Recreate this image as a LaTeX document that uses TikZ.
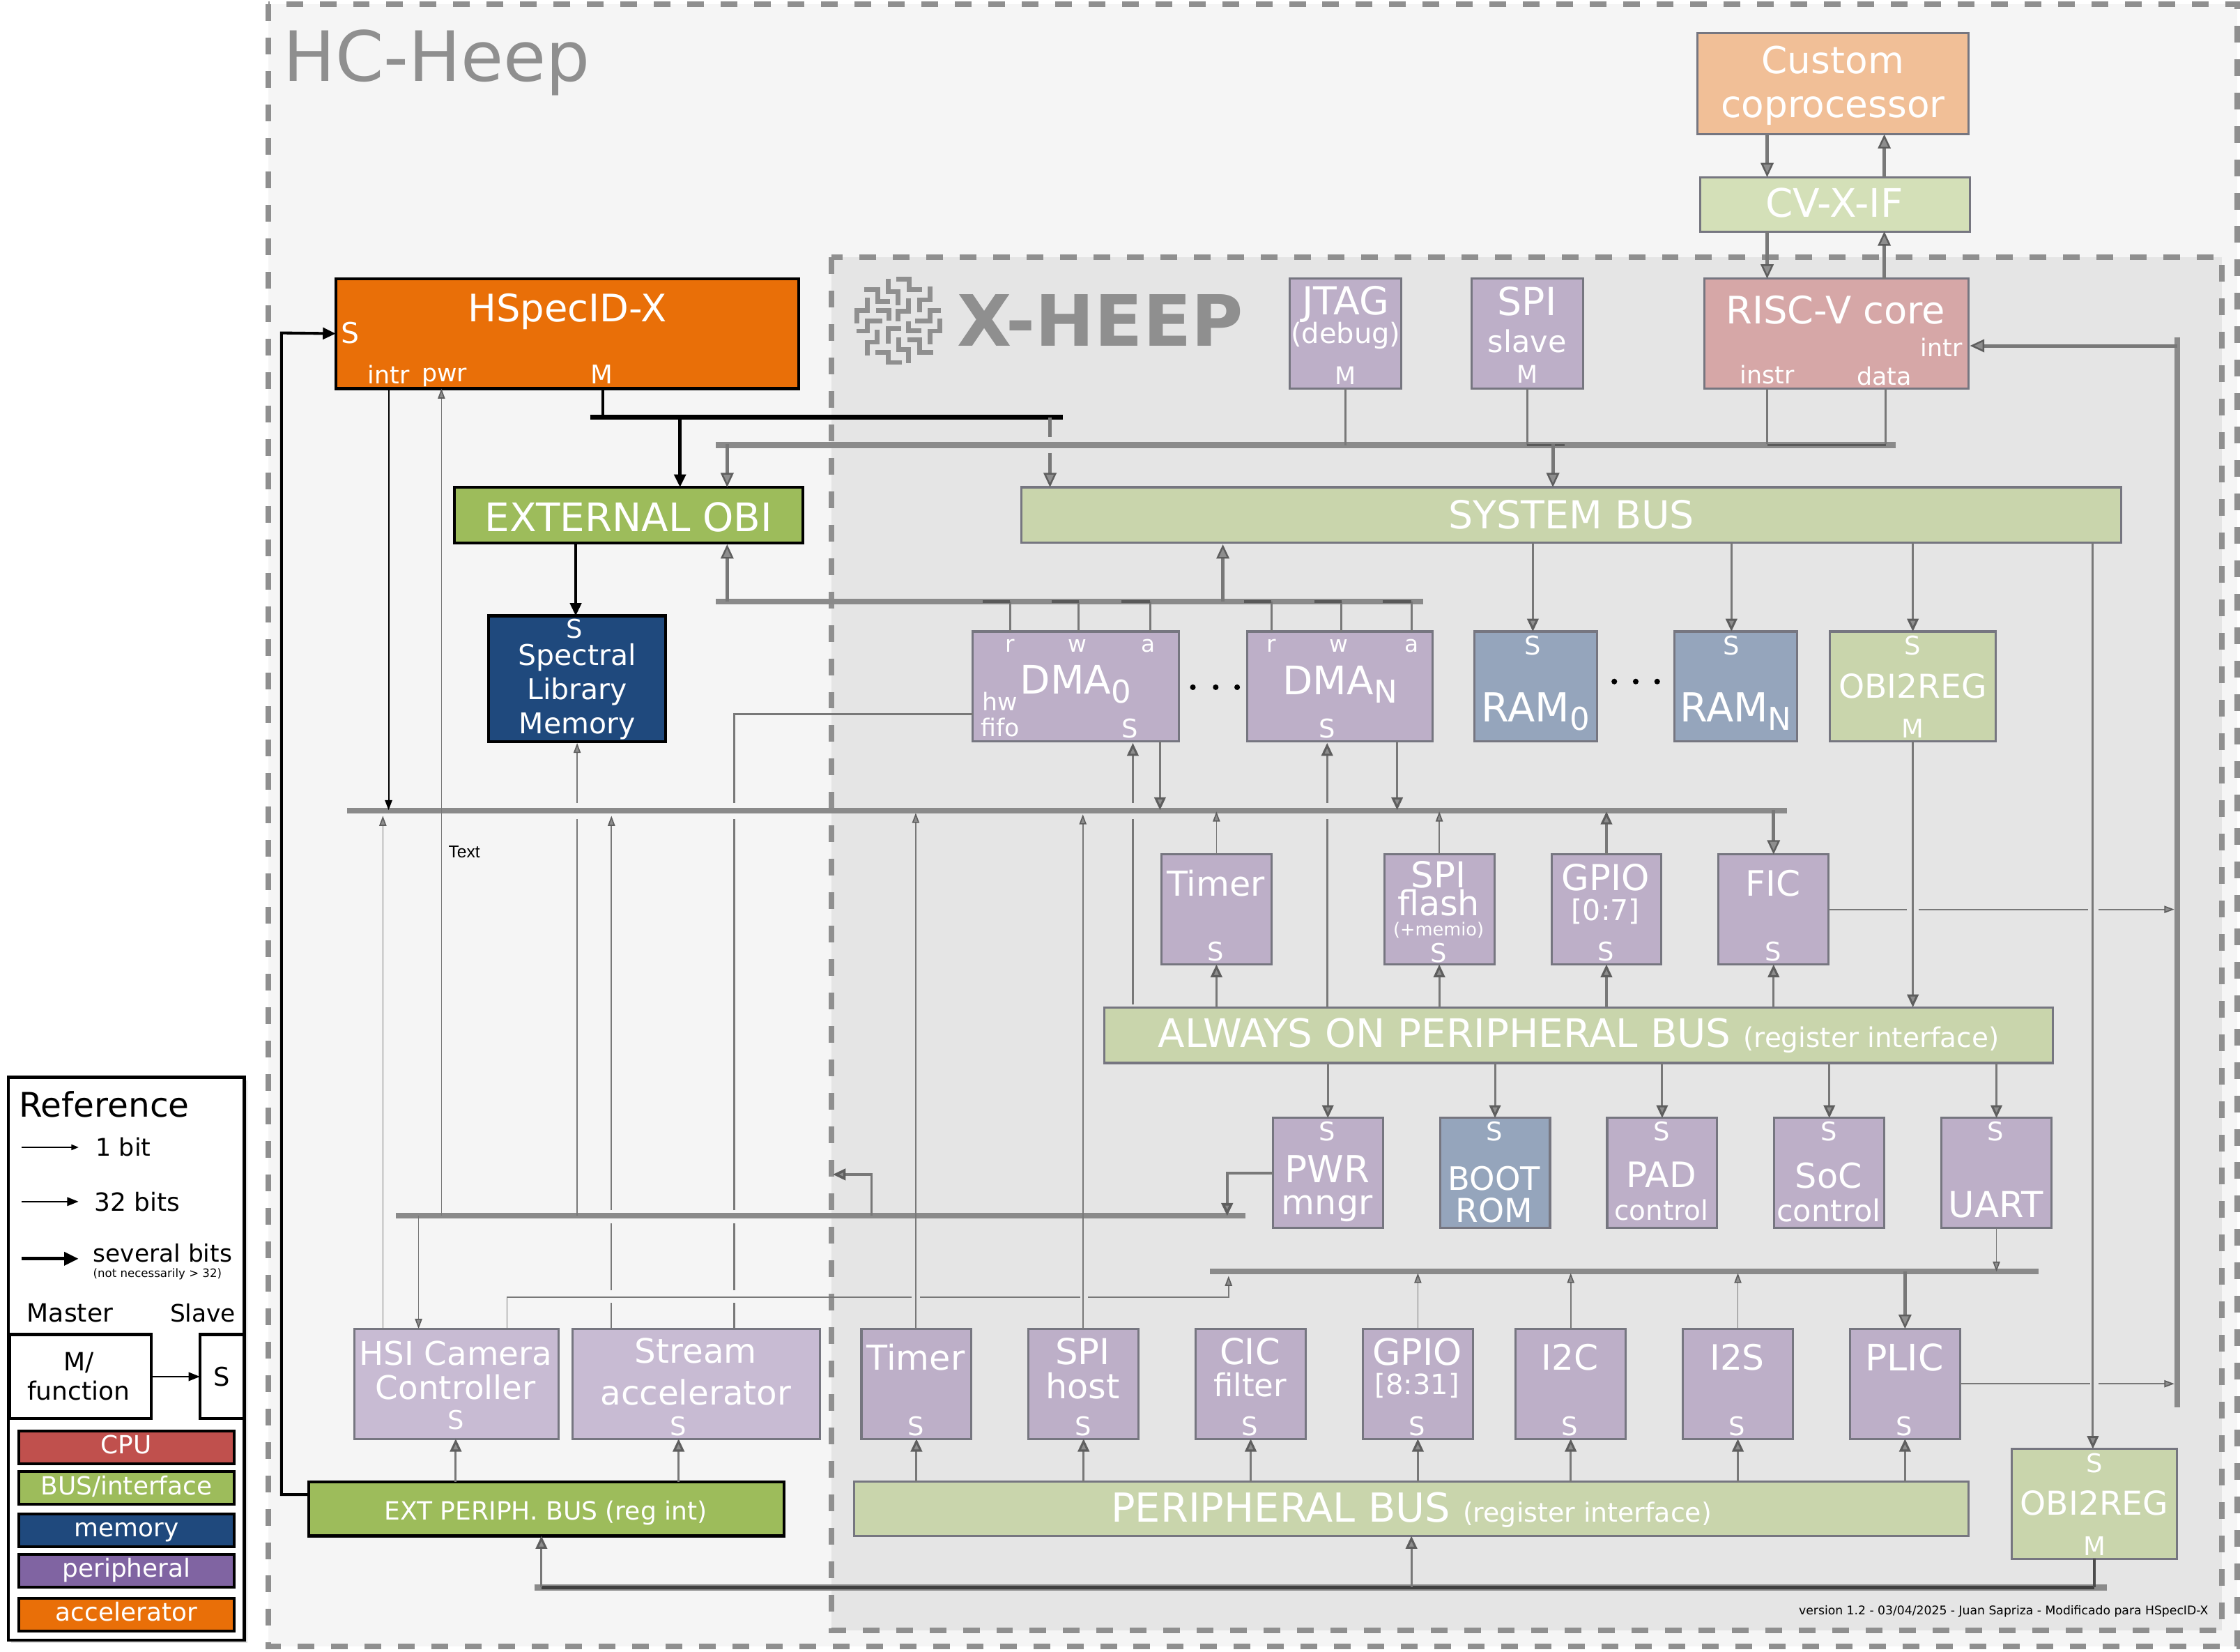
\documentclass[tikz,border=0pt]{standalone}
\usepackage{fontspec}
\setmainfont{DejaVu Sans}
\newfontfamily\smallfont{Liberation Sans}
\usetikzlibrary{arrows.meta,shadows}
\definecolor{outerbg}{HTML}{F5F5F5}
\definecolor{innerbg}{HTML}{E5E5E5}
\definecolor{dashcol}{HTML}{8F8F8F}
\definecolor{wirecol}{HTML}{787878}
\definecolor{tipcol}{HTML}{8E8E8E}
\definecolor{tipedge}{HTML}{5E5E5E}
\definecolor{buscol}{HTML}{8A8A8A}
\definecolor{edgecol}{HTML}{767680}
\definecolor{periphcol}{HTML}{BDAFC8}
\definecolor{extperiphcol}{HTML}{C8BBD3}
\definecolor{memcol}{HTML}{95A5BC}
\definecolor{buslight}{HTML}{C9D5AC}
\definecolor{cvxcol}{HTML}{D4E0B8}
\definecolor{corecol}{HTML}{D6A7A7}
\definecolor{copcol}{HTML}{F1BF97}
\definecolor{accelcol}{HTML}{E96F08}
\definecolor{extbuscol}{HTML}{9DBC5B}
\definecolor{navycol}{HTML}{1F497D}
\definecolor{cpucol}{HTML}{C0504D}
\definecolor{purplecol}{HTML}{8064A2}
\tikzset{
  block/.style={draw=edgecol,line width=1.5pt,inner sep=0pt,outer sep=0pt},
  blackblock/.style={draw=black,line width=2pt,inner sep=0pt,outer sep=0pt},
  size/.style n args={2}{minimum width=#1pt,minimum height=#2pt},
  sq/.style={block,fill=periphcol,size={77}{77}},
  txt/.style={text=white,inner sep=0pt,align=center,font=\fontsize{#1}{#1}\selectfont},
  blacktxt/.style={text=black,inner sep=0pt,align=center,font=\fontsize{#1}{#1}\selectfont},
  port/.style={txt=18},
  keybar/.style={blackblock,size={151}{23},text=white,font=\fontsize{17.5}{17.5}\selectfont,text height=13pt,text depth=4pt},
  busline/.style={draw=buscol,line width=4pt},
  darkline/.style={draw=black!70,line width=2pt},
  thinw/.style={draw=wirecol,line width=0.8pt,>={Triangle[length=7pt,width=5pt,fill=tipcol,color=tipedge]}},
  medw/.style={draw=wirecol,line width=1.5pt,>={Triangle[length=9pt,width=8pt,fill=tipcol,color=tipedge]}},
  widew/.style={draw=wirecol,line width=2.4pt,>={Triangle[length=10pt,width=9pt,line width=1.2pt,fill=tipcol,color=tipedge]}},
  blackw/.style={draw=black,line width=#1,>={Triangle[length=9pt,width=8pt,fill=black]}},
  blackw/.default=1.8pt,
}
\begin{document}
\begin{tikzpicture}[x=1pt,y=-1pt]
\useasboundingbox (0,0) rectangle (1568,1156.2);

\path[fill=outerbg,draw=dashcol,line width=3.9pt,dash pattern=on 11.7pt off 11.7pt] (188,3) rectangle (1566,1152.5);
\path[fill=innerbg,draw=dashcol,line width=3.9pt,dash pattern=on 11.7pt off 11.7pt] (582,180) rectangle (1555.5,1141);

\node[txt=48.5,text=dashcol,anchor=west] (hcheep) at (198,44) {HC-Heep};
\node[txt=49,text=dashcol,anchor=west,font=\fontsize{49.5}{50}\bfseries] (xheep) at (670,224) {X-HEEP};
\begin{scope}[shift={(592.68,187.8)},x=0.1626pt,y=-0.1626pt,draw=dashcol,line width=3.3pt]
\foreach \maze in {
  {(180,45)--(180,100)--(222,100)--(222,158)},
  {(212,47)--(268,47)--(268,92)--(323,92)},
  {(75,92)--(133,92)--(133,143)--(187,143)},
  {(358,78)--(358,135)--(315,135)--(315,190)},
  {(90,127)--(90,182)--(45,182)--(45,238)},
  {(126,182)--(182,182)--(182,225)},
  {(267,128)--(267,185)--(222,185)--(222,228)},
  {(405,182)--(358,182)--(358,226)--(293,226)},
  {(153,227)--(90,227)--(90,270)--(42,270)},
  {(265,228)--(265,268)--(322,268)},
  {(402,215)--(402,270)--(358,270)--(358,327)},
  {(234,260)--(179,260)--(179,325)},
  {(132,264)--(132,318)--(88,318)--(88,375)},
  {(262,308)--(315,308)--(315,362)--(372,362)},
  {(223,296)--(223,350)--(267,350)--(267,408)},
  {(123,361)--(179,361)--(179,405)--(236,405)}}
  \draw \maze;
\end{scope}

\node[block,fill=copcol,size={190}{71}] (custom) at (1283,58.5) {};
\node[block,fill=cvxcol,size={189}{38}] (cvxif) at (1284.5,143) {};
\node[block,fill=corecol,size={185}{77}] (riscv) at (1285.5,233.5) {};
\node[block,fill=periphcol,size={78}{77}] (spislave) at (1069,233.5) {};
\node[block,fill=periphcol,size={78}{77}] (jtag) at (942,233.5) {};
\node[blackblock,fill=accelcol,size={324}{77}] (hspec) at (397,233.5) {};
\node[blackblock,fill=extbuscol,size={244}{39}] (extobi) at (440,360.5) {};
\node[blackblock,fill=navycol,size={124}{88}] (speclib) at (404,475) {};
\node[block,fill=buslight,size={770}{39}] (sysbus) at (1100,360.5) {};
\node[block,fill=periphcol,size={144}{77}] (dmazero) at (753,480.5) {};
\node[block,fill=periphcol,size={130}{77}] (dman) at (938,480.5) {};
\node[block,fill=memcol,size={86}{77}] (ramzero) at (1075,480.5) {};
\node[block,fill=memcol,size={86}{77}] (ramn) at (1215,480.5) {};
\node[block,fill=buslight,size={116}{77}] (obiup) at (1339,480.5) {};
\node[sq] (timera) at (851.5,636.5) {};
\node[sq] (spiflash) at (1007.5,636.5) {};
\node[sq] (gpioa) at (1124.5,636.5) {};
\node[sq] (fic) at (1241.5,636.5) {};
\node[block,fill=buslight,size={664}{39}] (aobus) at (1105,724.5) {};
\node[sq] (pwr) at (929.5,821) {};
\node[sq,fill=memcol] (boot) at (1046.5,821) {};
\node[sq] (pad) at (1163.5,821) {};
\node[sq] (soc) at (1280.5,821) {};
\node[sq] (uart) at (1397.5,821) {};
\node[block,fill=extperiphcol,size={143}{77}] (hsi) at (319.5,968.5) {};
\node[block,fill=extperiphcol,size={173}{77}] (stream) at (487.5,968.5) {};
\node[sq] (timerb) at (641.5,968.5) {};
\node[sq] (spihost) at (758.5,968.5) {};
\node[sq] (cic) at (875.5,968.5) {};
\node[sq] (gpiob) at (992.5,968.5) {};
\node[sq] (itwoc) at (1099.5,968.5) {};
\node[sq] (itwos) at (1216.5,968.5) {};
\node[sq] (plic) at (1333.5,968.5) {};
\node[block,fill=buslight,size={780}{38}] (perbus) at (988,1056) {};
\node[blackblock,fill=extbuscol,size={333}{38}] (extbus) at (382.5,1056) {};
\node[block,fill=buslight,size={116}{77}] (obidown) at (1466,1052.5) {};

\node[txt=26] (customtxt) at (1283,60) {Custom\\[5pt]coprocessor};
\node[txt=27.5] (cvxtxt) at (1284,142) {CV-X-IF};
\node[txt=26.5] (risctxt) at (1285,217) {RISC-V core};
\node[txt=17] (riscintr) at (1359,243) {intr};
\node[txt=17] (riscinstr) at (1237,262) {instr};
\node[txt=17] (riscdata) at (1319,263) {data};
\node[txt=27] (spistxt) at (1069,211) {SPI};
\node[txt=21] (slavetxt) at (1069,239) {slave};
\node[txt=17] (spism) at (1069,262) {M};
\node[txt=27] (jtagtxt) at (942,213) {JTAG};
\node[txt=19.5] (debugtxt) at (942,235) {(debug)};
\node[txt=17] (jtagm) at (942,263) {M};
\node[txt=26.5] (hspectxt) at (397,218) {HSpecID-X};
\node[txt=20] (hspecs) at (245,233) {S};
\node[txt=17] (hspecintr) at (272,262) {intr};
\node[txt=17] (hspecpwr) at (311,264) {pwr};
\node[txt=18] (hspecm) at (421,262) {M};
\node[txt=27.5] (extobitxt) at (440,362) {EXTERNAL OBI};
\node[port] (specs) at (402,440) {S};
\node[txt=20] (spectxt) at (404,484) {Spectral\\[4pt]Library\\[4pt]Memory};
\node[txt=27] (systxt) at (1100,360) {SYSTEM BUS};

\node[txt=16] (dmazr) at (707,452) {r};
\node[txt=16] (dmazw) at (754,452) {w};
\node[txt=16] (dmaza) at (804,452) {a};
\node[txt=27.5] (dmaztxt) at (753,479) {DMA\raisebox{-6pt}{\fontsize{22}{22}\selectfont 0}};
\node[txt=17] (dmazhw) at (700,491) {hw};
\node[txt=17] (dmazfifo) at (700,509) {fifo};
\node[port] (dmazs) at (791,510) {S};
\node[txt=16] (dmanr) at (890,452) {r};
\node[txt=16] (dmanw) at (937,452) {w};
\node[txt=16] (dmana) at (988,452) {a};
\node[txt=27.5] (dmantxt) at (938,479) {DMA\raisebox{-6pt}{\fontsize{22}{22}\selectfont N}};
\node[port] (dmans) at (929,510) {S};
\node[port] (ramzs) at (1073,452) {S};
\node[txt=28] (ramztxt) at (1075,498) {RAM\raisebox{-6pt}{\fontsize{22}{22}\selectfont 0}};
\node[port] (ramns) at (1212,452) {S};
\node[txt=28] (ramntxt) at (1215,498) {RAM\raisebox{-6pt}{\fontsize{22}{22}\selectfont N}};
\node[port] (obius) at (1339,452) {S};
\node[txt=23] (obiutxt) at (1339,480) {OBI2REG};
\node[port] (obium) at (1339,510) {M};

\node[txt=24] (timeratxt) at (851,618) {Timer};
\node[port] (timeras) at (851,666) {S};
\node[txt=25] (spiftxt) at (1007,612) {SPI};
\node[txt=24] (flashtxt) at (1007,632) {flash};
\node[txt=12.5] (memiotxt) at (1007,651) {(+memio)};
\node[port] (spifs) at (1007,667) {S};
\node[txt=25] (gpioatxt) at (1124,614) {GPIO};
\node[txt=20] (gpioarng) at (1124,638) {[0:7]};
\node[port] (gpioas) at (1124,666) {S};
\node[txt=24.5] (fictxt) at (1241,618) {FIC};
\node[port] (fics) at (1241,666) {S};
\node[txt=27.5] (aotxt) at (1105,725) {ALWAYS ON PERIPHERAL BUS {\fontsize{19}{19}\selectfont (register interface)}};

\node[port] (pwrs) at (929,792) {S};
\node[txt=26] (pwrtxt) at (929,818) {PWR};
\node[txt=24] (mngrtxt) at (929,846) {mngr};
\node[port] (boots) at (1046,792) {S};
\node[txt=22.6] (boottxt) at (1046,825) {BOOT};
\node[txt=23] (romtxt) at (1046,847) {ROM};
\node[port] (pads) at (1163,792) {S};
\node[txt=24.5] (padtxt) at (1163,822) {PAD};
\node[txt=19] (padctl) at (1163,847) {control};
\node[port] (socs) at (1280,792) {S};
\node[txt=24] (soctxt) at (1280,823) {SoC};
\node[txt=21] (socctl) at (1280,847) {control};
\node[port] (uarts) at (1397,792) {S};
\node[txt=25] (uarttxt) at (1397,843) {UART};

\node[txt=22.8] (hsitxt) at (319,959) {HSI Camera\\[1pt]Controller};
\node[port] (hsis) at (319,994) {S};
\node[txt=23.6] (streamtxt) at (487,960) {Stream\\[6pt]accelerator};
\node[port] (streams) at (475,998) {S};
\node[txt=24] (timerbtxt) at (641,950) {Timer};
\node[port] (timerbs) at (641,998) {S};
\node[txt=25] (spihtxt) at (758,946) {SPI};
\node[txt=24] (hosttxt) at (758,970) {host};
\node[port] (spihs) at (758,998) {S};
\node[txt=25] (cictxt) at (875,946) {CIC};
\node[txt=22] (filtertxt) at (875,969) {filter};
\node[port] (cics) at (875,998) {S};
\node[txt=25.5] (gpiobtxt) at (992,946) {GPIO};
\node[txt=19.5] (gpiobrng) at (992,970) {[8:31]};
\node[port] (gpiobs) at (992,998) {S};
\node[txt=24.5] (itwoctxt) at (1099,950) {I2C};
\node[port] (itwocs) at (1099,998) {S};
\node[txt=24.5] (itwostxt) at (1216,950) {I2S};
\node[port] (itwoss) at (1216,998) {S};
\node[txt=25.5] (plictxt) at (1333,950) {PLIC};
\node[port] (plics) at (1333,998) {S};
\node[txt=28] (pertxt) at (988,1057) {PERIPHERAL BUS {\fontsize{18.5}{18.5}\selectfont (register interface)}};
\node[txt=17.6] (extbustxt) at (382,1059) {EXT PERIPH. BUS (reg int)};
\node[port] (obids) at (1466,1024) {S};
\node[txt=23] (obidtxt) at (1466,1052) {OBI2REG};
\node[port] (obidm) at (1466,1082) {M};

\node[blacktxt=8.4] (versiontxt) at (1402.5,1128) {version 1.2 - 03/04/2025 - Juan Sapriza - Modificado para HSpecID-X};
\node[blacktxt=12,font=\smallfont\fontsize{12}{12}\selectfont] (texttag) at (325,596) {Text};

\foreach \i/\xd in {a/835,b/851,c/866}
  \node[circle,fill=black,inner sep=1.4pt] (dmadot\i) at (\xd,481) {};
\foreach \i/\xd in {a/1130,b/1145,c/1160}
  \node[circle,fill=black,inner sep=1.4pt] (ramdot\i) at (\xd,477) {};

\coordinate (sysbarl) at (501,311.5);
\coordinate (sysbarr) at (1327,311.5);
\coordinate (hspecbarl) at (413,292);
\coordinate (hspecbarr) at (744,292);
\coordinate (dmabarl) at (501,421);
\coordinate (dmabarr) at (996,421);
\coordinate (mainbarl) at (243,567.5);
\coordinate (mainbarr) at (1251,567.5);
\coordinate (midbarl) at (277,851);
\coordinate (midbarr) at (872,851);
\coordinate (lowbarl) at (847,890);
\coordinate (lowbarr) at (1427,890);
\coordinate (botbarl) at (374,1111);
\coordinate (botbarr) at (1475,1111);
\coordinate (irqbart) at (1524,236);
\coordinate (irqbarb) at (1524,985);

\path[busline] (sysbarl) -- (sysbarr);
\path[draw=black,line width=3.5pt] (hspecbarl) -- (hspecbarr);
\path[busline] (dmabarl) -- (dmabarr);
\path[busline] (mainbarl) -- (mainbarr);
\path[busline] (midbarl) -- (midbarr);
\path[busline] (lowbarl) -- (lowbarr);
\path[busline,line width=4.5pt] (botbarl) -- (botbarr);
\path[draw=black!75,line width=2.5pt] (379,1111) -- (1466,1111);
\path[busline] (irqbart) -- (irqbarb);

\path[widew,->] (1237,94) -- (1237,124);
\path[widew,->] (1319,124) -- (1319,94);
\path[widew,->] (1237,162) -- (1237,195);
\path[widew,->] (1319,195) -- (1319,162);
\path[widew,->] (1524,242) -- (1379,242);

\path[medw] (jtag.south) -- (jtag.south |- sysbarl);
\path[medw] (spislave.south) -- (spislave.south |- sysbarl);
\path[draw=black!65,line width=1.8pt] (spislave.south |- sysbarl) -- (1095,311.5);
\path[medw] (1237,272) -- (1237,311);
\path[medw] (1320,272) -- (1320,311);
\path[draw=black!65,line width=1.8pt] (1237,311.5) -- (1320,311.5);
\path[widew,->] (1087,311) -- (1087,341);
\path[widew,->] (509,311) -- (509,341);
\path[widew] (735,292) -- (735,306);
\path[widew,->] (735,317) -- (735,341);
\path[blackw] (422,272) -- (422,292);
\path[blackw=2.4pt,->] (476,292) -- (476,341);
\path[blackw,->] (403,380) -- (403,431);
\path[widew,->] (856,421) -- (856,381);
\path[widew,->] (509,421) -- (509,381);

\foreach \xs/\xe in {688/707,736/755,785/805,871/890,920/939,968/988}{
  \path[medw] (\xe,442) -- (\xe,421);
  \path[draw=black!65,line width=1.8pt] (\xe,421) -- (\xs,421);
}

\path[medw,->] (1073,380) -- (1073,442);
\path[medw,->] (1212,380) -- (1212,442);
\path[medw,->] (1339,380) -- (1339,442);
\path[medw,->] (1465,380) -- (1465,1014);
\path[medw,->] (1339,519) -- (1339,705);

\path[draw=black,line width=1pt,>={Triangle[length=7pt,width=5pt]},->] (272,272) -- (272,567);
\path[thinw,->] (309,851) -- (309,272);
\path[thinw,->] (268,930) -- (268,571);
\path[thinw] (404,851) -- (404,573);
\path[thinw,->] (404,562) -- (404,520);
\path[thinw,->] (293,851) -- (293,930);
\path[thinw] (428,930) -- (428,912);
\path[thinw] (428,903) -- (428,856);
\path[thinw,->] (428,847) -- (428,571);
\path[medw] (514,930) -- (514,912);
\path[medw] (514,903) -- (514,856);
\path[medw] (514,847) -- (514,573);
\path[medw] (514,562) -- (514,500) -- (681,500);
\path[thinw] (355,930) -- (355,908) -- (638,908);
\path[thinw] (644,908) -- (756,908);
\path[thinw,->] (761.5,908) -- (860,908) -- (860,893);
\path[thinw,->] (641,930) -- (641,569);
\path[thinw,->] (758,930) -- (758,570);
\path[medw,line width=1.8pt,->] (610,851) -- (610,822) -- (583,822);
\path[medw,line width=1.8pt,->] (891,821) -- (859,821) -- (859,851);

\path[medw] (793,703) -- (793,573);
\path[medw,->] (793,562) -- (793,520);
\path[medw,->] (812,519) -- (812,567);
\path[medw] (929,705) -- (929,573);
\path[medw,->] (929,562) -- (929,520);
\path[medw,->] (978,519) -- (978,567);

\path[thinw,->] (timera.north) -- (851.5,568);
\path[thinw,->] (spiflash.north) -- (1007.5,568);
\path[medw,->] (gpioa.north) -- (1124.5,568);
\path[widew,->] (1241.5,567) -- (fic.north);
\foreach \top in {timera,spiflash,gpioa,fic}{
  \path[medw,->] (aobus.north -| \top.south) -- (\top.south);
}
\foreach \low in {pwr,boot,pad,soc,uart}{
  \path[medw,->] (aobus.south -| \low.north) -- (\low.north);
}
\path[thinw] (fic.east) -- (1335,636.5);
\path[thinw] (1343,636.5) -- (1461.5,636.5);
\path[thinw,->] (1469,636.5) -- (1522,636.5);
\path[thinw] (plic.east) -- (1463,968.5);
\path[thinw,->] (1469,968.5) -- (1522,968.5);

\path[medw,->] (extbus.north -| hsis) -- (hsi.south -| hsis);
\path[medw,->] (extbus.north -| streams) -- (stream.south -| streams);
\foreach \low in {timerb,spihost,cic,gpiob,itwoc,itwos,plic}{
  \path[medw,->] (perbus.north -| \low.south) -- (\low.south);
}
\path[thinw,->] (gpiob.north) -- (992.5,891);
\path[thinw,->] (itwoc.north) -- (1099.5,891);
\path[thinw,->] (itwos.north) -- (1216.5,891);
\path[widew,->] (1333.5,890) -- (plic.north);
\path[thinw,->] (uart.south) -- (1397.5,890);
\path[medw,->] (988,1111) -- (988,1075);
\path[medw,->] (379,1111) -- (379,1075);
\path[darkline] (obidown.south) -- (1466,1111);
\path[blackw=2pt,->] (216,1046) -- (197,1046) -- (197,233) -- (hspec.west);

\node[draw=black,line width=2pt,fill=white,drop shadow={shadow xshift=2pt,shadow yshift=-2pt,opacity=0.25},size={165}{394},inner sep=0pt,outer sep=0pt] (legend) at (88.5,951) {};
\node[blacktxt=23.7,anchor=west] (legendtitle) at (13,773) {Reference};
\coordinate (onebita) at (15,803);
\coordinate (onebitb) at (55,803);
\coordinate (wordbita) at (15,841);
\coordinate (wordbitb) at (55,841);
\coordinate (manybita) at (15,881);
\coordinate (manybitb) at (55,881);
\path[draw=black,line width=0.6pt,>={Triangle[length=5pt,width=4pt]},->] (onebita) -- (onebitb);
\path[draw=black,line width=1.3pt,>={Triangle[length=8pt,width=6pt]},->] (wordbita) -- (wordbitb);
\path[draw=black,line width=2.4pt,>={Triangle[length=10pt,width=9pt]},->] (manybita) -- (manybitb);
\node[blacktxt=17,anchor=west] (onebit) at (67,803) {1 bit};
\node[blacktxt=17.5,anchor=west] (wordbit) at (66,841) {32 bits};
\node[blacktxt=16.8,anchor=west] (manybit) at (65,877) {several bits};
\node[blacktxt=8.1,anchor=west] (manynote) at (65,892) {(not necessarily > 32)};
\node[blacktxt=17.6] (mastertxt) at (49,919) {Master};
\node[blacktxt=16.8] (slavetxt2) at (142,919) {Slave};
\node[draw=black,line width=2pt,fill=white,size={99}{59},inner sep=0pt,outer sep=0pt] (mfunc) at (56.5,963.5) {};
\node[draw=black,line width=2pt,fill=white,size={31}{59},inner sep=0pt,outer sep=0pt] (sbox) at (155.5,963.5) {};
\node[blacktxt=17.6] (mfunctxt) at (55,963.5) {M/\\[3pt]function};
\node[blacktxt=18] (sboxtxt) at (155,963.5) {S};
\path[draw=black,line width=1.3pt,>={Triangle[length=8pt,width=6pt]},->] (mfunc) -- (sbox);
\node[keybar,fill=cpucol] (keycpu) at (88.5,1013) {CPU};
\node[keybar,fill=extbuscol] (keybus) at (88.5,1041.5) {BUS/interface};
\node[keybar,fill=navycol] (keymem) at (88.5,1071) {memory};
\node[keybar,fill=purplecol] (keyper) at (88.5,1099.5) {peripheral};
\node[keybar,fill=accelcol] (keyacc) at (88.5,1130) {accelerator};
\end{tikzpicture}
\end{document}
